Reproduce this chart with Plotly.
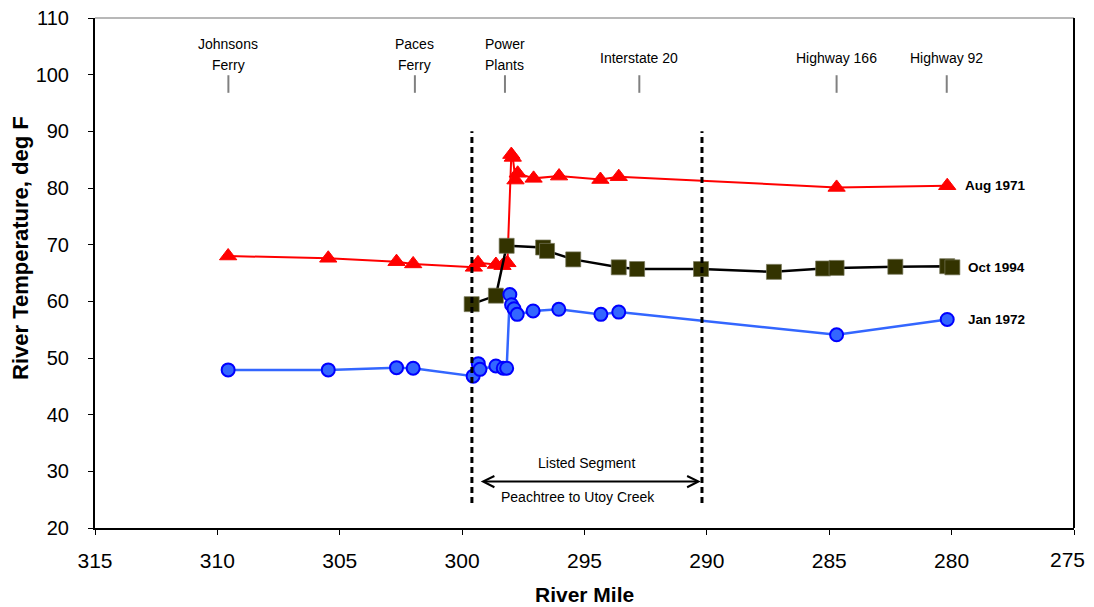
import plotly.graph_objects as go

# ---------------- data ----------------
aug71_mile = [309.56, 305.47, 302.68, 302.0, 299.52, 299.35, 298.62, 298.35, 298.15,
              297.99, 297.93, 297.82, 297.73, 297.08, 296.04, 294.35, 293.6, 284.7, 280.18]
aug71_temp = [68.0, 67.6, 67.0, 66.6, 66.0, 66.8, 66.5, 66.3, 66.8,
              85.9, 85.4, 81.4, 82.6, 81.7, 82.1, 81.5, 82.0, 80.1, 80.4]

oct94_mile = [299.61, 298.62, 298.18, 296.69, 296.53, 295.46, 293.6, 292.85, 290.24,
              287.26, 285.25, 284.7, 282.3, 280.18, 279.97]
oct94_temp = [59.5, 61.0, 69.8, 69.5, 68.9, 67.4, 66.0, 65.7, 65.7,
              65.2, 65.8, 65.9, 66.1, 66.2, 66.0]

jan72_mile = [309.56, 305.47, 302.68, 302.0, 299.55, 299.34, 299.27, 298.62, 298.32, 298.18,
              298.05, 297.98, 297.88, 297.75, 297.1, 296.05, 294.33, 293.6, 284.7, 280.18]
jan72_temp = [47.9, 47.9, 48.3, 48.2, 46.8, 49.0, 48.0, 48.6, 48.2, 48.2,
              61.2, 59.4, 58.7, 57.7, 58.3, 58.6, 57.7, 58.1, 54.1, 56.8]

x_tick_vals = [315, 310, 305, 300, 295, 290, 285, 280, 275]
x_tick_text = ["315", "310", "305", "300", "295", "290", "285", "280", "275"]

landmark_names = ["Johnsons<br>Ferry", "Paces<br>Ferry", "Power<br>Plants",
                  "Interstate 20", "Highway 166", "Highway 92"]
landmark_miles = [309.55, 301.93, 298.25, 292.76, 284.7, 280.2]

segment_miles = [299.6, 290.2]          # listed segment bounds
series_labels = ["Aug 1971", "Oct 1994", "Jan 1972"]

FONT = "Arial, Liberation Sans, sans-serif"

fig = go.Figure()

fig.add_trace(go.Scatter(
    x=aug71_mile, y=aug71_temp, mode="lines+markers", name="Aug 1971",
    line=dict(color="#FF0000", width=2),
    marker=dict(symbol="triangle-up", size=15, color="#FF0000",
                line=dict(color="#FF0000", width=1))))

fig.add_trace(go.Scatter(
    x=oct94_mile, y=oct94_temp, mode="lines+markers", name="Oct 1994",
    line=dict(color="#000000", width=2.5),
    marker=dict(symbol="square", size=15, color="#333300",
                line=dict(color="#77775a", width=0.7))))

fig.add_trace(go.Scatter(
    x=jan72_mile, y=jan72_temp, mode="lines+markers", name="Jan 1972",
    line=dict(color="#3366FF", width=2.5),
    marker=dict(symbol="circle", size=13, color="#3366FF",
                line=dict(color="#0000FF", width=2))))

shapes = []
annotations = []

# landmark labels and gray ticks
for name, mile in zip(landmark_names, landmark_miles):
    lines = name.split("<br>")
    ys = [105.5, 101.7] if len(lines) == 2 else [102.9]
    for ln, yy in zip(lines, ys):
        annotations.append(dict(x=mile, y=yy, xref="x", yref="y",
                                text=ln, showarrow=False, xanchor="center", yanchor="middle",
                                font=dict(family=FONT, size=14, color="#000000")))
    shapes.append(dict(type="line", xref="x", yref="y", x0=mile, x1=mile, y0=96.8, y1=99.9,
                       line=dict(color="#808080", width=2)))

# dashed segment bounds
for m in segment_miles:
    shapes.append(dict(type="line", xref="x", yref="y", x0=m, x1=m, y0=24.4, y1=90,
                       line=dict(color="#000000", width=3, dash="6px,4px")))

# double arrow
annotations.append(dict(x=segment_miles[1] + 0.05, y=28.2, ax=segment_miles[0] - 0.3, ay=28.2,
                        xref="x", yref="y", axref="x", ayref="y", text="",
                        showarrow=True, arrowside="end+start", arrowhead=5,
                        arrowsize=1.1, arrowwidth=2, arrowcolor="#000000"))
annotations.append(dict(x=294.9, y=31.5, xref="x", yref="y", text="Listed Segment",
                        showarrow=False, font=dict(family=FONT, size=14, color="#000000")))
annotations.append(dict(x=295.26, y=25.4, xref="x", yref="y", text="Peachtree to Utoy Creek",
                        showarrow=False, font=dict(family=FONT, size=14, color="#000000")))

# series labels at right
label_pos = [(279.55, aug71_temp[-1]), (279.42, oct94_temp[-1]), (279.42, jan72_temp[-1])]
for txt, (lx, ly) in zip(series_labels, label_pos):
    annotations.append(dict(x=lx, y=ly, xref="x", yref="y", text="<b>%s</b>" % txt,
                            showarrow=False, xanchor="left", yanchor="middle",
                            font=dict(family=FONT, size=13.5, color="#000000")))

# last x tick label drawn as annotation, nudged inward so it stays on the page
annotations.append(dict(x=x_tick_vals[-1], y=0, xref="x", yref="paper", xshift=-7, yshift=-31,
                        text=x_tick_text[-1], showarrow=False, xanchor="center", yanchor="middle",
                        font=dict(family=FONT, size=21, color="#000000")))

# axis titles
annotations.append(dict(x=0, y=0.549, xref="paper", yref="paper", xshift=-75,
                        text="<b>River Temperature, deg F</b>", textangle=-90, showarrow=False,
                        xanchor="center", yanchor="middle",
                        font=dict(family=FONT, size=22, color="#000000")))
annotations.append(dict(x=0.5, y=0, xref="paper", yref="paper", yshift=-66,
                        text="<b>River Mile</b>", showarrow=False,
                        xanchor="center", yanchor="middle",
                        font=dict(family=FONT, size=21, color="#000000")))

# top & right border
shapes.append(dict(type="line", xref="paper", yref="paper", x0=0, x1=1, y0=1, y1=1,
                   line=dict(color="#A0A0A0", width=1.5)))
shapes.append(dict(type="line", xref="paper", yref="paper", x0=1, x1=1, y0=0, y1=1,
                   line=dict(color="#000000", width=2)))

# page body has an 8px default margin, so the figure is sized/offset accordingly
fig.update_layout(
    template="none",
    width=1086, height=599,
    margin=dict(l=87, r=20, t=10, b=79, autoexpand=False),
    paper_bgcolor="white", plot_bgcolor="white",
    showlegend=False,
    shapes=shapes, annotations=annotations,
    font=dict(family=FONT, color="#000000"),
    xaxis=dict(range=[315, 275], tickmode="array", tickvals=x_tick_vals,
               ticktext=x_tick_text[:-1] + [""],
               showgrid=False, zeroline=False,
               automargin=False, ticklabeloverflow="allow",
               showline=True, linecolor="#000000", linewidth=2,
               ticks="outside", ticklen=5, tickcolor="#000000", tickwidth=1,
               tickfont=dict(family=FONT, size=21, color="#000000"),
               ticklabelstandoff=8),
    yaxis=dict(range=[20, 110], dtick=10, tick0=20, showgrid=False, zeroline=False,
               automargin=False, ticklabeloverflow="allow",
               showline=True, linecolor="#000000", linewidth=2,
               ticks="outside", ticklen=5, tickcolor="#000000", tickwidth=1,
               tickfont=dict(family=FONT, size=20, color="#000000"),
               ticklabelstandoff=15),
)

fig.write_html("out.html")
